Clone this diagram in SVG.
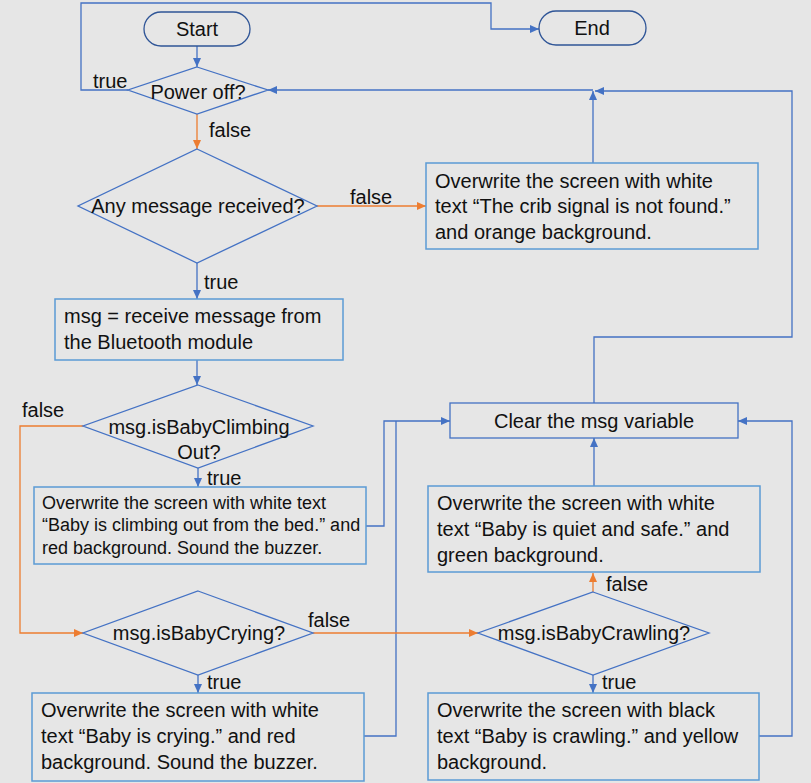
<svg xmlns="http://www.w3.org/2000/svg" width="811" height="783" viewBox="0 0 811 783">
<style>
text{font-family:"Liberation Sans",Arial,sans-serif;font-size:20px;fill:#111}
.sm{font-size:18px}
.c{text-anchor:middle}
.term{fill:none;stroke:#2f5597;stroke-width:1.3}
.dia{fill:none;stroke:#4472c4;stroke-width:1.3}
.box{fill:none;stroke:#5b9bd5;stroke-width:1.5}
.b{fill:none;stroke:#4472c4;stroke-width:1.3}
.o{fill:none;stroke:#ed7d31;stroke-width:1.3}
.ab{marker-end:url(#ab)}
.ao{marker-end:url(#ao)}
</style>
<defs>
<marker id="ab" markerUnits="userSpaceOnUse" markerWidth="10" markerHeight="8" refX="9" refY="4" orient="auto"><path d="M0,0 L9,4 L0,8 z" fill="#4472c4"/></marker>
<marker id="ao" markerUnits="userSpaceOnUse" markerWidth="10" markerHeight="8" refX="9" refY="4" orient="auto"><path d="M0,0 L9,4 L0,8 z" fill="#ed7d31"/></marker>
</defs>
<rect width="811" height="783" fill="#e6e6e6"/>
<g id="connectors">
<path class="b ab" d="M197,46 V67"/>
<path class="b ab" d="M128,90 H81 V3 H491 V29 H539"/>
<path class="o ao" d="M197,114 V149"/>
<path class="o ao" d="M317,206 H426"/>
<path class="b ab" d="M197,263 V299"/>
<path class="b ab" d="M197,360 V385"/>
<path class="o ao" d="M83,426 H20 V633 H83"/>
<path class="b ab" d="M198,468 V487"/>
<path class="b ab" d="M366,526 H384 V421 H450"/>
<path class="b" d="M364,736 H396 V421"/>
<path class="o ao" d="M313,633 H478"/>
<path class="b ab" d="M198,675 V693"/>
<path class="o ao" d="M593,592 V573"/>
<path class="b ab" d="M593,675 V693"/>
<path class="b ab" d="M759,736 H792 V421 H738"/>
<path class="b ab" d="M594,486 V438"/>
<path class="b ab" d="M594,403 V337 H792 V91 H595"/>
<path class="b ab" d="M593,163 V91"/>
<path class="b ab" d="M593,90 H268"/>
<text x="93" y="88">true</text>
<text x="209" y="137">false</text>
<text x="350" y="204">false</text>
<text x="204" y="289">true</text>
<text x="22" y="417">false</text>
<text x="207" y="485">true</text>
<text x="308" y="627">false</text>
<text x="207" y="689">true</text>
<text x="606" y="591">false</text>
<text x="602" y="689">true</text>
</g>
<g id="start"><rect class="term" x="144" y="12" width="106" height="34" rx="17"/><text class="c" x="197" y="36">Start</text></g>
<g id="end"><rect class="term" x="539" y="11" width="107" height="34" rx="17"/><text class="c" x="592" y="35">End</text></g>
<g id="power"><path class="dia" d="M197,67 L268,90 L197,114 L128,90 z"/><text class="c" x="198" y="99">Power off?</text></g>
<g id="anymsg"><path class="dia" d="M197,149 L317,206 L197,263 L78,206 z"/><text class="c" x="198" y="213">Any message received?</text></g>
<g id="notfound"><rect class="box" x="426" y="163" width="332" height="86"/>
<text x="435" y="188">Overwrite the screen with white</text>
<text x="435" y="213">text “The crib signal is not found.”</text>
<text x="435" y="239">and orange background.</text></g>
<g id="receive"><rect class="box" x="55" y="299" width="288" height="61"/>
<text x="64" y="323">msg = receive message from</text>
<text x="64" y="349">the Bluetooth module</text></g>
<g id="climbing"><path class="dia" d="M198,385 L313,426 L198,468 L83,426 z"/>
<text class="c" x="199" y="434">msg.isBabyClimbing</text>
<text class="c" x="199" y="459">Out?</text></g>
<g id="climbbox"><rect class="box" x="34" y="487" width="332" height="77"/>
<text class="sm" x="42" y="509">Overwrite the screen with white text</text>
<text class="sm" x="42" y="531">“Baby is climbing out from the bed.” and</text>
<text class="sm" x="42" y="554">red background. Sound the buzzer.</text></g>
<g id="crying"><path class="dia" d="M198,591 L313,633 L198,675 L83,633 z"/>
<text class="c" x="199" y="640">msg.isBabyCrying?</text></g>
<g id="crybox"><rect class="box" x="32" y="693" width="332" height="88"/>
<text x="41" y="717">Overwrite the screen with white</text>
<text x="41" y="743">text “Baby is crying.” and red</text>
<text x="41" y="769">background. Sound the buzzer.</text></g>
<g id="clear"><rect class="dia" x="450" y="403" width="288" height="35"/>
<text class="c" x="594" y="428">Clear the msg variable</text></g>
<g id="safe"><rect class="box" x="428" y="486" width="332" height="86"/>
<text x="437" y="510">Overwrite the screen with white</text>
<text x="437" y="536">text “Baby is quiet and safe.” and</text>
<text x="437" y="562">green background.</text></g>
<g id="crawling"><path class="dia" d="M593,592 L709,633 L593,675 L478,633 z"/>
<text class="c" x="594" y="640">msg.isBabyCrawling?</text></g>
<g id="crawlbox"><rect class="box" x="428" y="693" width="331" height="87"/>
<text x="437" y="717">Overwrite the screen with black</text>
<text x="437" y="743">text “Baby is crawling.” and yellow</text>
<text x="437" y="769">background.</text></g>
</svg>
